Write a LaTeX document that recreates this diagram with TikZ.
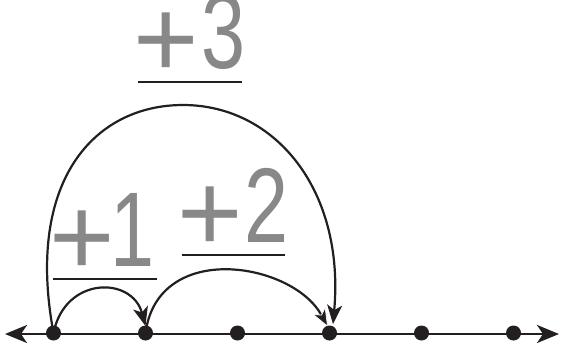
\documentclass[tikz,border=0pt]{standalone}
\usepackage{fontspec}
\setmainfont{Liberation Sans}
\usetikzlibrary{arrows.meta}
\definecolor{lblgray}{HTML}{888888}
\definecolor{ink}{HTML}{231F20}
\newcommand\hoplab[2]{\makebox[54pt][c]{\raisebox{-9pt}{\fontsize{112}{112}\selectfont +}}\hspace{#1}\scalebox{0.88}[1.18]{\fontsize{90}{90}\selectfont #2}}
\begin{document}
\begin{tikzpicture}[x=1pt,y=-1pt,
  dot/.style={circle,fill=ink,inner sep=0pt,minimum size=15pt},
  numline/.style={line width=2.6pt,draw=ink,{Stealth[length=22pt,width=18pt,inset=6pt]}-{Stealth[length=22pt,width=18pt,inset=6pt]}},
  hop/.style={line width=2.2pt,draw=ink,-{Stealth[length=19pt,width=15pt,inset=5pt]}},
  hopw/.style={line width=2.2pt,draw=ink,-{Stealth[length=19pt,width=15pt,inset=5pt,fill=ink,color=white,line width=0.7pt]}},
  uline/.style={line width=2.6pt,draw=ink},
  lbl/.style={inner sep=0pt,text=lblgray,anchor=base west}
]
\useasboundingbox (0,0) rectangle (561,350);
% number line
\coordinate (L) at (5,334);
\coordinate (R) at (559,334);
\draw[numline] (L) -- (R);
\foreach \i in {0,...,5} \coordinate (p\i) at ({53.5+92*\i},333);
% hops
\draw[hop] (p0) .. controls (65,276) and (132,276) .. ([xshift=0pt,yshift=7pt]p1);
\draw[hop] (p0) .. controls (25,180) and (95,105) .. (183,105) .. controls (275,105) and (345,190) .. ([xshift=3.5pt,yshift=9pt]p3);
\draw[hopw] (p1) .. controls (158,240) and (292,262) .. ([xshift=-1.5pt,yshift=6pt]p3);
% dots
\foreach \i in {0,...,5} \node[dot] (d\i) at (p\i) {};
% underlines
\draw[uline] (138,82) -- (242,82);
\draw[uline] (53,279) -- (157,279);
\draw[uline] (182,255) -- (285,255);
% labels
\node[lbl] (l3) at (139,69) {\hoplab{8pt}{3}};
\node[lbl] (l1) at (55,266) {\hoplab{1pt}{1}};
\node[lbl] (l2) at (183,242) {\hoplab{7pt}{2}};
\end{tikzpicture}
\end{document}
